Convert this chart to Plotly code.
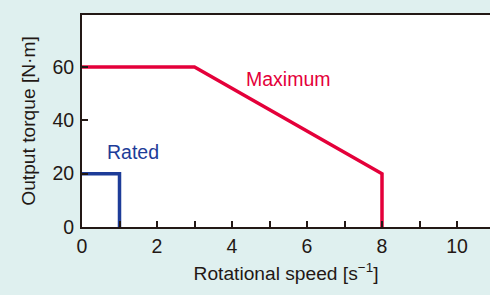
import plotly.graph_objects as go

max_speed = [0, 3, 8, 8]
max_torque = [60, 60, 20, 0]
rated_speed = [0, 1, 1]
rated_torque = [20, 20, 0]
x_ticks = [0, 2, 4, 6, 8, 10]
y_ticks = [0, 20, 40, 60]

RED = "#e4003a"
BLUE = "#1d3c98"
AX = "#231815"
FONT = "Liberation Sans, Arial, sans-serif"

fig = go.Figure()
fig.add_trace(go.Scatter(x=max_speed, y=max_torque, mode="lines",
                         line=dict(color=RED, width=3.5), cliponaxis=False))
fig.add_trace(go.Scatter(x=rated_speed, y=rated_torque, mode="lines",
                         line=dict(color=BLUE, width=3.5), cliponaxis=False))

fig.add_annotation(x=4.32, y=55.5, text="Maximum", showarrow=False, xanchor="left",
                   font=dict(color=RED, size=19.5, family=FONT))
fig.add_annotation(x=0.61, y=28, text="Rated", showarrow=False, xanchor="left",
                   font=dict(color=BLUE, size=19.5, family=FONT))

fig.update_layout(
    width=490, height=295,
    margin=dict(l=82, r=0, t=15, b=68),
    paper_bgcolor="#dff0ef", plot_bgcolor="white",
    showlegend=False,
    font=dict(family=FONT, color="#231815"),
    xaxis=dict(range=[0, 10.88], tickvals=x_ticks, ticks="inside", ticklen=6,
               tickwidth=2, tickcolor=AX, automargin=False,
               minor=dict(dtick=1, ticks="inside", ticklen=6, tickwidth=2, tickcolor=AX),
               showline=True, linecolor=AX, linewidth=2, mirror=True,
               showgrid=False, zeroline=False,
               tickfont=dict(size=19.5), ticklabelstandoff=1,
               title=dict(text="Rotational speed [s<sup>−1</sup>]", font=dict(size=19.2), standoff=10)),
    yaxis=dict(range=[0, 79.5], tickvals=y_ticks, ticks="inside", ticklen=6,
               tickwidth=2, tickcolor=AX, automargin=False,
               showline=True, linecolor=AX, linewidth=2, showgrid=False, zeroline=False,
               tickfont=dict(size=19.5), ticklabelstandoff=2,
               title=dict(text="Output torque [N·m]", font=dict(size=19.2), standoff=12)),
)

fig.write_html("out.html", config={"displayModeBar": False},
               post_script="document.body.style.margin='0';document.body.style.background='#dff0ef';")
